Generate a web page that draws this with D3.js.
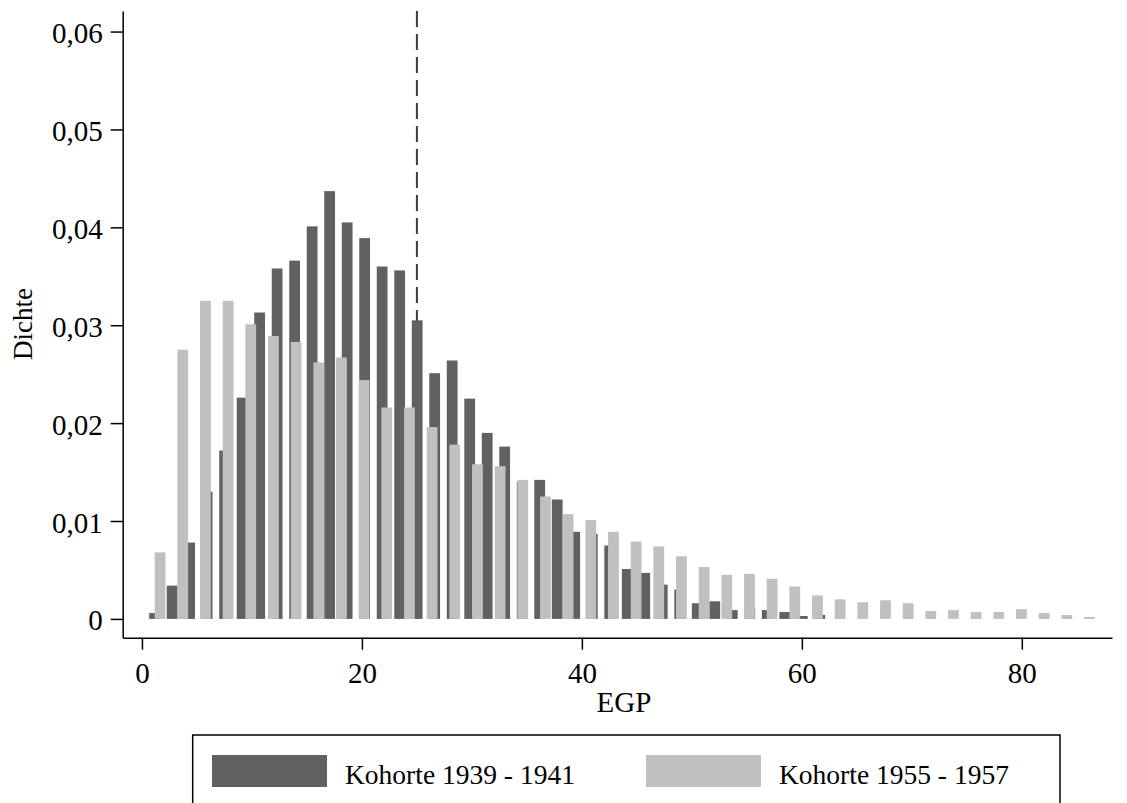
<!DOCTYPE html>
<html>
<head>
<meta charset="utf-8">
<script src="https://cdn.jsdelivr.net/npm/d3@7"></script>
<style>
  body { margin: 0; background: #fff; }
  text { font-family: "Liberation Serif", "Times New Roman", serif; fill: #000; }
</style>
</head>
<body>
<script>
// Kohorte 1939 - 1941 (dunkel): Dichte je Klasse
const dens1939 = [0.0006, 0.0034, 0.0078, 0.0130, 0.0172, 0.0226, 0.0313, 0.0358, 0.0366, 0.0401,
  0.0437, 0.0405, 0.0389, 0.0360, 0.0356, 0.0305, 0.0251, 0.0264, 0.0225, 0.0190,
  0.0176, 0.0140, 0.0142, 0.0122, 0.0089, 0.0087, 0.0075, 0.0051, 0.0047, 0.0035,
  0.0030, 0.0016, 0.0018, 0.0009, 0.0011, 0.0009, 0.0007, 0.0003, 0.0004];
// Kohorte 1955 - 1957 (hell)
const dens1955 = [0.0068, 0.0275, 0.0325, 0.0325, 0.0301, 0.0289, 0.0283, 0.0262, 0.0267, 0.0244,
  0.0216, 0.0216, 0.0196, 0.0178, 0.0158, 0.0156, 0.0142, 0.0125, 0.0107, 0.0101,
  0.0089, 0.0079, 0.0074, 0.0064, 0.0053, 0.0045, 0.0046, 0.0041, 0.0033, 0.0024,
  0.0020, 0.0017, 0.0019, 0.0016, 0.0008, 0.0009, 0.0007, 0.0007, 0.0010, 0.0006,
  0.0004, 0.0002];
// histogram bins: first midpoint and bin width (EGP units)
const bins1939 = {first: 1.15, width: 1.5916};
const bins1955 = {first: 1.65, width: 2.061};
const barW = 0.98;

const xTicks = [0, 20, 40, 60, 80];
const yTicks = [0, 0.01, 0.02, 0.03, 0.04, 0.05, 0.06];
const cutoff = 25;
const legendLabels = ["Kohorte 1939 - 1941", "Kohorte 1955 - 1957"];
const colors = ["#616161", "#c0c0c0"];

const width = 1127, height = 803;

const svg = d3.select("body").append("svg")
  .attr("width", width)
  .attr("height", height);

svg.append("rect").attr("width", width).attr("height", height).attr("fill", "#fff");

const x = d3.scaleLinear().domain([-1.75, 88.2]).range([122.7, 1112]);
const y = d3.scaleLinear().domain([-0.00192, 0.0621]).range([637.7, 11]);

const fmt = d => d === 0 ? "0" : d.toFixed(2).replace(".", ",");

// dashed reference line (behind the bars)
svg.append("line")
  .attr("x1", x(cutoff)).attr("x2", x(cutoff))
  .attr("y1", y(0.0621)).attr("y2", y(0))
  .attr("stroke", "#3c3c3c")
  .attr("stroke-width", 2)
  .attr("stroke-dasharray", "16,7");

const d1 = dens1939.map((v, i) => ({mid: bins1939.first + i * bins1939.width, v}));
const d2 = dens1955.map((v, i) => ({mid: bins1955.first + i * bins1955.width, v}));

svg.append("g").selectAll("rect")
  .data(d1)
  .join("rect")
  .attr("x", d => x(d.mid - barW / 2))
  .attr("width", d => x(barW) - x(0))
  .attr("y", d => y(d.v))
  .attr("height", d => y(0) - y(d.v))
  .attr("fill", colors[0]);

svg.append("g").selectAll("rect")
  .data(d2)
  .join("rect")
  .attr("x", d => x(d.mid - barW / 2))
  .attr("width", d => x(barW) - x(0))
  .attr("y", d => y(d.v))
  .attr("height", d => y(0) - y(d.v))
  .attr("fill", colors[1]);

// axes
const xaxis = d3.axisBottom(x).tickValues(xTicks).tickSize(12).tickPadding(13).tickSizeOuter(0);
const yaxis = d3.axisLeft(y).tickValues(yTicks).tickFormat(fmt).tickSize(12).tickPadding(8).tickSizeOuter(0);

const gx = svg.append("g")
  .attr("transform", `translate(0, ${y.range()[0]})`)
  .call(xaxis);
const gy = svg.append("g")
  .attr("transform", `translate(${x.range()[0]}, 0)`)
  .call(yaxis);

[gx, gy].forEach(g => {
  g.selectAll("path, line").attr("stroke", "#000").attr("stroke-width", 1.5);
  g.selectAll("text").attr("font-size", 29).attr("font-family", "Liberation Serif").attr("fill", "#000");
});
gy.selectAll("text").attr("dy", "0.38em");

svg.append("text")
  .attr("x", 624)
  .attr("y", 712)
  .attr("text-anchor", "middle")
  .attr("font-size", 29)
  .text("EGP");

svg.append("text")
  .attr("transform", "translate(32, 324) rotate(-90)")
  .attr("text-anchor", "middle")
  .attr("font-size", 27)
  .text("Dichte");

// legend
const legend = svg.append("g");
legend.append("rect")
  .attr("x", 192.7).attr("y", 735)
  .attr("width", 867.3).attr("height", 120)
  .attr("fill", "none")
  .attr("stroke", "#000")
  .attr("stroke-width", 1.5);

const legX = [212, 646];
legendLabels.forEach((lab, i) => {
  legend.append("rect")
    .attr("x", legX[i]).attr("y", 755)
    .attr("width", 115).attr("height", 32)
    .attr("fill", colors[i]);
  legend.append("text")
    .attr("x", legX[i] + 133)
    .attr("y", 784)
    .attr("font-size", 27.5)
    .text(lab);
});
</script>
</body>
</html>
